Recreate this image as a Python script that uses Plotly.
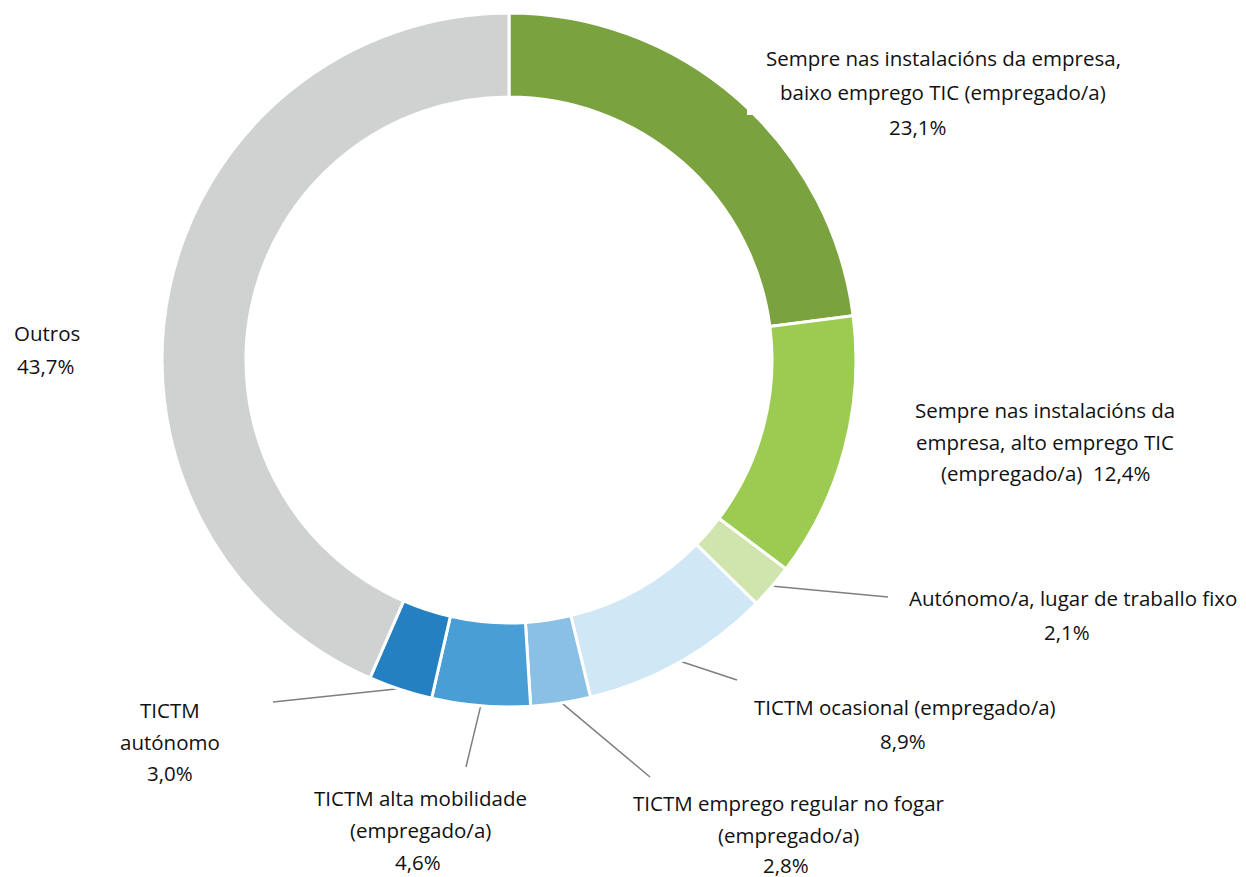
import math
import plotly.graph_objects as go

# ---- data ----
categories = [
    "Sempre nas instalacións da empresa, baixo emprego TIC (empregado/a)",
    "Sempre nas instalacións da empresa, alto emprego TIC (empregado/a)",
    "Autónomo/a, lugar de traballo fixo",
    "TICTM ocasional (empregado/a)",
    "TICTM emprego regular no fogar (empregado/a)",
    "TICTM alta mobilidade (empregado/a)",
    "TICTM autónomo",
    "Outros",
]
values = [23.1, 12.4, 2.1, 8.9, 2.8, 4.6, 3.0, 43.7]
colors = ["#7AA23F", "#9BCB51", "#D0E5AE", "#D0E7F5",
          "#8BC0E6", "#4A9ED6", "#2480C0", "#D0D2D2"]

# label lines (text only); "{p}" is replaced by the formatted percentage
label_lines = [
    ["Sempre nas instalacións da empresa,", "baixo emprego TIC (empregado/a)"],
    ["Sempre nas instalacións da", "empresa, alto emprego TIC", "(empregado/a)  {p}"],
    ["Autónomo/a, lugar de traballo fixo"],
    ["TICTM ocasional (empregado/a)"],
    ["TICTM emprego regular no fogar", "(empregado/a)"],
    ["TICTM alta mobilidade", "(empregado/a)"],
    ["TICTM", "autónomo"],
    ["Outros"],
]

# ---- layout (pixels in the final page) ----
W, H = 1246, 877
OFF = 8  # default body margin of the html page
CX, CY, R = 509, 360, 347
HOLE = 0.758
FONT = "Open Sans"
FS = 20.5

# label placement: (x, [line ys], pct position or None, xanchor)
placement = [
    (943, [58, 92], (917, 127), "center"),
    (1045, [410, 442, 473], None, "center"),
    (1073, [598], (1067, 632), "center"),
    (905, [707], (903, 741), "center"),
    (789, [803, 835], (786, 865), "center"),
    (421, [798, 830], (418, 862), "center"),
    (170, [710, 742], (170, 773), "center"),
    (12, [333], (15, 366), "left"),
]
# leader line end points (pixels) for slices that have a leader
leader_ends = {2: (888, 597), 3: (737, 680), 4: (650, 777), 5: (466, 767), 6: (273, 702)}


def px(x):
    return (x - OFF) / W


def py(y):
    return 1 - (y - OFF) / H


def fmt(v):
    return f"{v:.1f}".replace(".", ",") + "%"


fig = go.Figure(go.Pie(
    labels=categories,
    values=values,
    sort=False,
    direction="clockwise",
    rotation=0,
    hole=HOLE,
    marker=dict(colors=colors, line=dict(color="white", width=3)),
    textinfo="none",
    hoverinfo="label+percent",
    showlegend=False,
    domain=dict(x=[px(CX - R), px(CX + R)], y=[py(CY + R), py(CY - R)]),
))

annotations = []
shapes = []

# white notch (artifact of label box in the original)
shapes.append(dict(type="rect", xref="paper", yref="paper",
                   x0=px(747), x1=px(760), y0=py(115), y1=py(60),
                   fillcolor="white", line=dict(width=0), layer="above"))

total = sum(values)
cum = 0.0
for i, v in enumerate(values):
    mid = (cum + v / 2) / total * 2 * math.pi
    cum += v
    x, ys, pct, anchor = placement[i]
    for j, line in enumerate(label_lines[i]):
        annotations.append(dict(
            x=px(x), y=py(ys[j]), xref="paper", yref="paper",
            text=line.replace("{p}", fmt(v)), showarrow=False,
            xanchor=anchor, yanchor="middle",
            font=dict(family=FONT, size=FS, color="#111111")))
    if pct is not None:
        annotations.append(dict(
            x=px(pct[0]), y=py(pct[1]), xref="paper", yref="paper",
            text=fmt(v), showarrow=False, xanchor=anchor, yanchor="middle",
            font=dict(family=FONT, size=FS, color="#111111")))
    if i in leader_ends:
        sx = CX + (R - 1) * math.sin(mid)
        sy = CY - (R - 1) * math.cos(mid)
        ex, ey = leader_ends[i]
        shapes.append(dict(type="line", xref="paper", yref="paper",
                           x0=px(sx), y0=py(sy), x1=px(ex), y1=py(ey),
                           line=dict(color="#7F7F7F", width=1.5), layer="below"))

fig.update_layout(
    width=W, height=H,
    margin=dict(l=0, r=0, t=0, b=0),
    paper_bgcolor="white", plot_bgcolor="white",
    annotations=annotations, shapes=shapes,
)

fig.write_html("out.html")
